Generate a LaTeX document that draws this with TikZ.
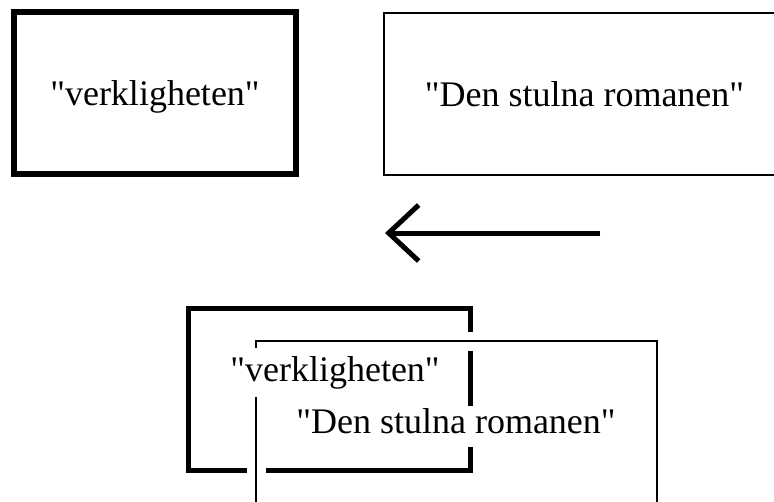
\documentclass[tikz,border=0pt]{standalone}
\usepackage{fontspec}
\newfontfamily\labelfont{Liberation Serif}
\usetikzlibrary{arrows.meta,positioning}

\begin{document}
\begin{tikzpicture}[x=1pt,y=-1pt,
  every node/.style={font=\labelfont\fontsize{36}{43}\selectfont},
  thickbox/.style={draw,line width=5.5pt,minimum width=282pt,minimum height=162pt},
  thinbox/.style={draw,line width=1.8pt,minimum width=401pt,minimum height=162pt},
  halo/.style={preaction={draw=white,line width=19pt}},
  whitelabel/.style={fill=white,inner xsep=3pt,inner ysep=0pt,anchor=base}]
\clip (0,0) rectangle (774,501);
\node[thickbox,text depth=0pt] (real1) at (155,93) {"verkligheten"};
\node[thinbox] (novel1) at (584.5,94) {"Den stulna romanen"};
\coordinate (arrowtail) at (600,233);
\coordinate (arrowtip) at (385,233);
\draw[line width=5pt,-{Straight Barb[length=30pt,width=56pt]}] (arrowtail) -- (arrowtip);
\node[thickbox] (real2) at (329.5,389.5) {};
\node[thinbox,halo] (novel2) at (456.5,422) {};
\node[whitelabel,text height=33pt,text depth=16pt] (reallabel) at (335,381) {"verkligheten"};
\node[whitelabel,text height=27pt,text depth=14pt] (novellabel) at (456,433) {"Den stulna romanen"};
\end{tikzpicture}
\end{document}
